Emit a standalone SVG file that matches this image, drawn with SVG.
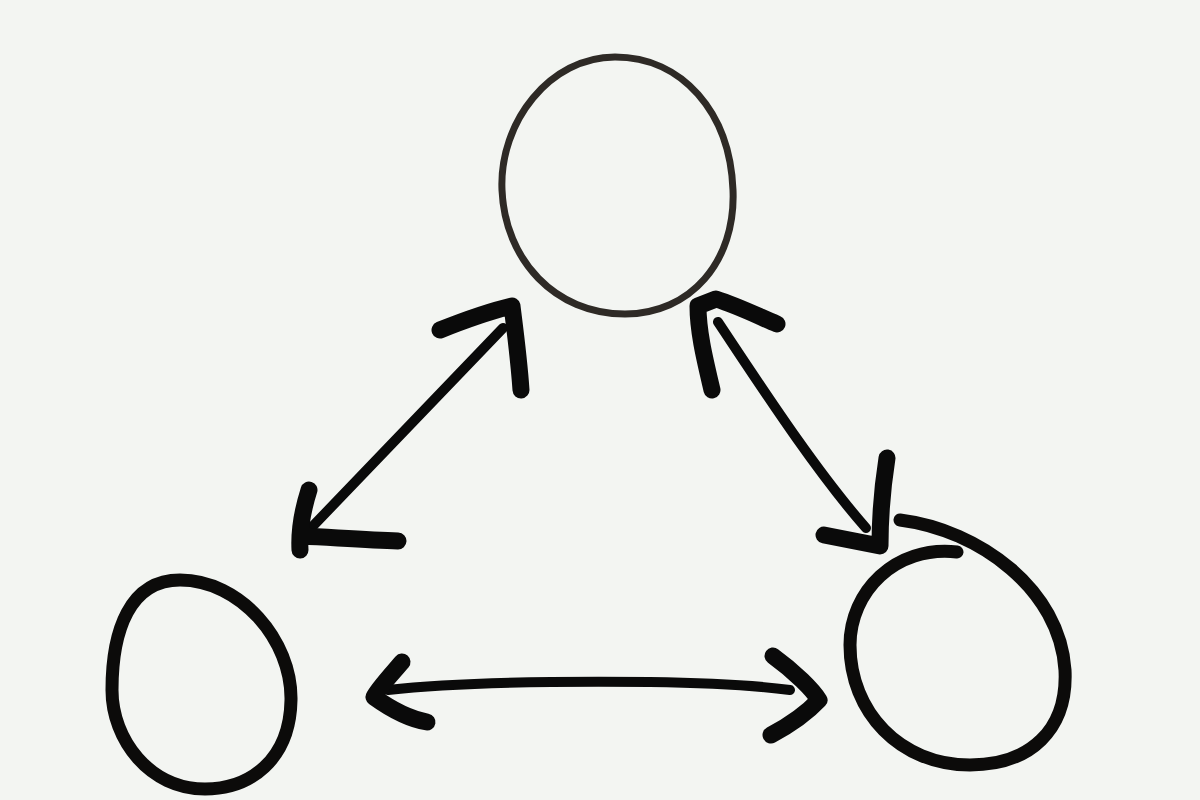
<svg xmlns="http://www.w3.org/2000/svg" width="1200" height="800" viewBox="0 0 1200 800">
  <style>
    .ring { fill: none; stroke: #0c0b0a; stroke-linecap: round; stroke-linejoin: round; }
    .thin { stroke: #2e2a26; stroke-width: 7; }
    .thick { stroke-width: 13; }
    .shaft { fill: none; stroke: #0a0a0a; stroke-width: 10; stroke-linecap: round; stroke-linejoin: round; }
    .head { fill: none; stroke: #0a0a0a; stroke-width: 17; stroke-linecap: round; stroke-linejoin: round; }
  </style>
  <rect width="1200" height="800" fill="#f3f5f2"/>

  <g id="node-top">
    <path class="ring thin" d="M 615 57 C 682 57 730 112 733 190 C 736 262 690 314 625 314 C 555 314 505 260 502 190 C 499 122 550 57 615 57 Z"/>
  </g>

  <g id="node-left">
    <path class="ring thick" d="M 180 580 C 240 580 292 640 291 700 C 290 760 250 789 205 789 C 150 789 112 740 112 690 C 112 630 130 580 180 580 Z"/>
  </g>

  <g id="node-right">
    <path class="ring thick" d="M 900 520 C 980 530 1060 590 1065 670 C 1068 730 1030 765 970 765 C 900 765 850 712 850 645 C 850 592 895 545 957 552"/>
  </g>

  <g id="connectors">
    <!-- top-left diagonal -->
    <path class="shaft" d="M 312 527 L 503 328"/>
    <path class="head" d="M 440 330 C 470 318 495 310 512 306 C 515 330 519 360 521 390"/>
    <path class="head" d="M 309 490 C 302 512 299 532 300 550 M 302 536 C 340 538 370 540 398 541"/>

    <!-- top-right diagonal -->
    <path class="shaft" d="M 718 322 C 760 385 815 470 866 528"/>
    <path class="head" d="M 712 390 C 705 360 698 332 698 306 L 716 299 C 738 306 758 316 777 324"/>
    <path class="head" d="M 887 458 C 882 490 880 520 880 546 L 824 535"/>

    <!-- bottom horizontal -->
    <path class="shaft" d="M 388 690 C 450 683 550 681 650 682 C 720 683 760 686 790 690"/>
    <path class="head" d="M 402 662 C 390 676 377 690 374 697 C 392 710 410 719 427 722"/>
    <path class="head" d="M 773 656 C 795 672 813 690 819 700 C 805 715 786 727 771 735"/>
  </g>
</svg>
